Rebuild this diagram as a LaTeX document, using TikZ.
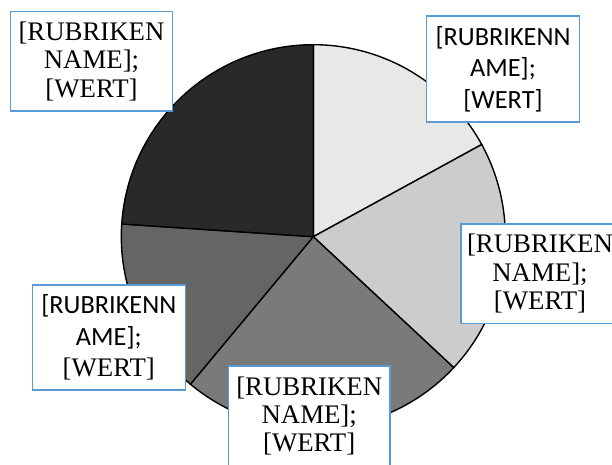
\documentclass[tikz,border=0pt]{standalone}
\usepackage{fontspec}
\setmainfont{Liberation Serif}
\newfontfamily\calib{Carlito}
\usepackage{tikz}

\definecolor{hell}{HTML}{E8E8E8}
\definecolor{mittelhell}{HTML}{CCCCCC}
\definecolor{mittel}{HTML}{7A7A7A}
\definecolor{dunkel}{HTML}{656565}
\definecolor{schwarz}{HTML}{292929}
\definecolor{rahmen}{HTML}{5B9BD5}

\newcommand{\serif}{\rmfamily\fontsize{26.8}{28.3}\selectfont}
\newcommand{\sans}{\calib\fontsize{26.3}{31.7}\selectfont}

\tikzset{
    stueck/.style={draw=black, line width=1.4pt, line join=round},
    etikett/.style={draw=rahmen, line width=1.5pt, fill=white, inner sep=0pt,
        align=center, minimum height=#1},
    etikett/.default=100pt
}

\begin{document}
\begin{tikzpicture}[x=1pt, y=1pt]
    \useasboundingbox (0,0) rectangle (612,464);
    \clip (0,0) rectangle (612,464);
    \coordinate (m) at (313.3,227.3);

    % Kreisstuecke
    \foreach \von/\bis/\farbe in {90/28.7/hell, 28.7/-43/mittelhell,
        -43/-129.8/mittel, -129.8/-183.8/dunkel, -183.8/-270/schwarz}
    {
        \filldraw[stueck, fill=\farbe] (m) -- ++(\von:192)
            arc[start angle=\von, end angle=\bis, radius=192] -- cycle;
    }

    % Beschriftungen
    \node[etikett=99.3pt, minimum width=161.6pt, font=\serif] (r1) at (91.5,402.7)
        {[RUBRIKEN\\NAME];\\{}[WERT]};
    \node[etikett=106pt, minimum width=152.6pt, font=\sans] (r2) at (503,395)
        {[RUBRIKENN\\AME];\\{}[WERT]};
    \node[etikett=99.3pt, minimum width=158pt, font=\serif] (r3) at (540,190.3)
        {[RUBRIKEN\\NAME];\\{}[WERT]};
    \node[etikett=105pt, minimum width=153pt, font=\sans] (r4) at (108.8,126.5)
        {[RUBRIKENN\\AME];\\\serif{}[WERT]};
    \node[etikett=100pt, minimum width=161.7pt, font=\serif] (r5) at (309.2,48)
        {[RUBRIKEN\\NAME];\\{}[WERT]};
\end{tikzpicture}
\end{document}
